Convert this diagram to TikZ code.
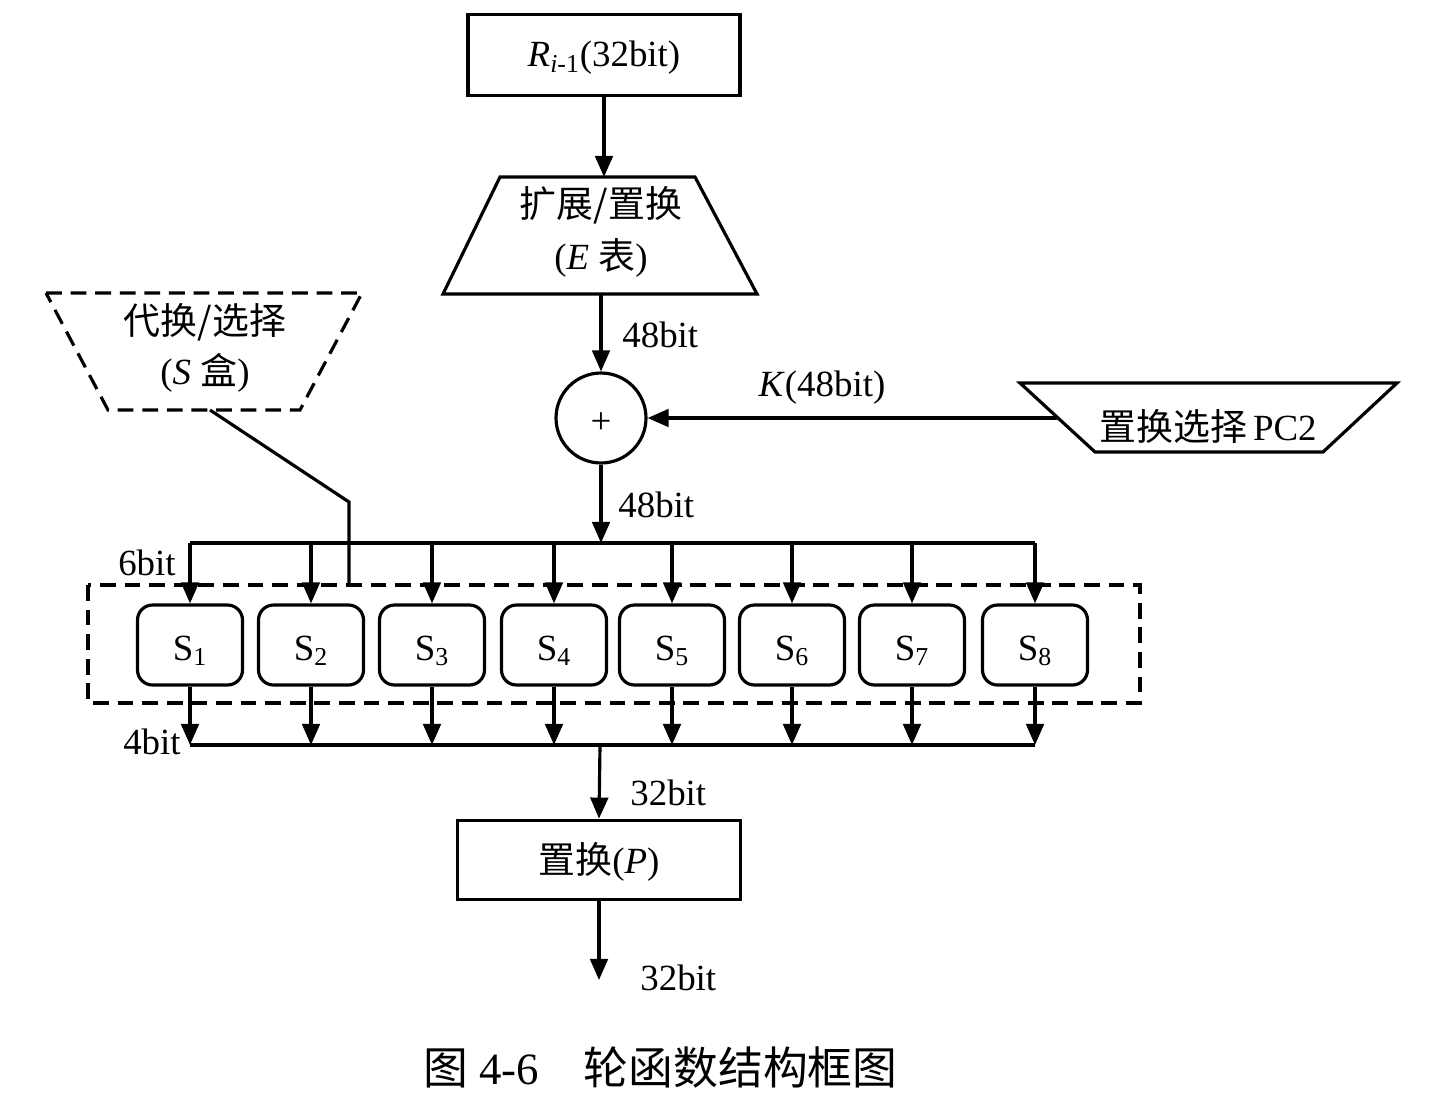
\documentclass[tikz,border=0pt]{standalone}
\usepackage{fontspec}
\setmainfont{Liberation Serif}
\newfontfamily\cjk{Noto Sans CJK SC}
\usetikzlibrary{arrows.meta}
\begin{document}
\begin{tikzpicture}[x=0.02cm,y=-0.02cm]
\tikzset{
  ln/.style={line width=1.8pt},
  arr/.style={ln,-{Triangle[width=10pt,length=12pt]}},
  dsh/.style={ln, dash pattern=on 9pt off 5pt},
  lbl/.style={font=\fontsize{21}{25}\selectfont, inner sep=0pt},
  box/.style={draw, line width=2.1pt, lbl},
  sbox/.style={draw, ln, rounded corners=0.3cm, minimum width=2.1cm, minimum height=1.6cm, lbl},
}
\useasboundingbox (0,0) rectangle (1442,1109);

% top box
\node[box, minimum width=5.44cm, minimum height=1.62cm] (R) at (604,55) {};
\node[lbl] (Rt) at (604,58) {\textit{R}\textsubscript{\textit{i}-1}(32bit)};

% E trapezoid
\draw[ln] (500,177) -- (695,177) -- (757,294) -- (443,294) -- cycle;
\node[lbl] (E1) at (601,205) {{\cjk 扩展/置换}};
\node[lbl] (E2) at (601,258) {(\textit{E} {\cjk 表})};
\coordinate (Etop) at (603,177);
\coordinate (Ebot) at (601,294);
\draw[arr] (R.south) -- (R.south |- Etop);

% XOR circle
\node[circle, draw, ln, minimum size=1.8cm] (X) at (601,418) {};
\node[lbl] (Xt) at (601,423) {+};
\draw[arr] (Ebot) -- (X.north);
\node[lbl, anchor=west] (l48a) at (622,335) {48bit};

% PC2 trapezoid
\draw[ln] (1020,383) -- (1397,383) -- (1323,452) -- (1095,452) -- cycle;
\node[lbl] (PC) at (1208,426) {{\cjk 置换选择}\,PC2};
\coordinate (PCin) at (1057,418);
\draw[arr] (PCin) -- (X.east);
\node[lbl] (K) at (822,388) {\textit{K}(48bit)};

% bus top
\coordinate (busT) at (601,543);
\coordinate (busB) at (600,745);
\draw[arr] (X.south) -- (busT);
\node[lbl, anchor=west] (l48b) at (618,505) {48bit};

% dashed frame
\draw[dsh] (88,585) rectangle (1140,703);

% S boxes
\foreach \i/\x in {1/190,2/311,3/432,4/554,5/672,6/792,7/912,8/1035} {
  \node[sbox] (S\i) at (\x,645) {};
  \node[lbl] (S\i t) at (\x,651) {S\textsubscript{\i}};
  \draw[arr] (S\i.north |- busT) -- (S\i.north);
  \draw[arr] (S\i.south) -- (S\i.south |- busB);
}
\draw[ln] (S1.north |- busT) -- (S8.north |- busT);
\draw[ln] (S1.south |- busB) -- (S8.south |- busB);
\node[lbl, anchor=east] (l6) at (176,563) {6bit};
\node[lbl, anchor=east] (l4) at (181,742) {4bit};

% P box
\node[box, minimum width=5.66cm, minimum height=1.58cm] (P) at (599,860) {};
\node[lbl] (Pt) at (599,862) {{\cjk 置换}(\textit{P})};
\draw[arr] (busB) -- (P.north);
\node[lbl, anchor=west] (l32a) at (630,793) {32bit};
\coordinate (out) at (599,980);
\draw[arr] (P.south) -- (out);
\node[lbl, anchor=west] (l32b) at (640,978) {32bit};

% S-box dashed trapezoid
\draw[dsh] (46,293) -- (362,293) -- (300,410) -- (108,410) -- cycle;
\node[lbl] (SB1) at (205,322) {{\cjk 代换/选择}};
\node[lbl] (SB2) at (205,373) {(\textit{S} {\cjk 盒})};
\coordinate (Sw) at (210,410);
\coordinate (Swk) at (349,502);
\coordinate (Swe) at (349,585);
\draw[ln] (Sw) -- (Swk) -- (Swe);

% caption
\node[font=\fontsize{25.5}{30}\selectfont, inner sep=0pt, anchor=west] (cap) at (423,1067) {{\cjk 图} 4-6\quad{\cjk 轮函数结构框图}};
\end{tikzpicture}
\end{document}
